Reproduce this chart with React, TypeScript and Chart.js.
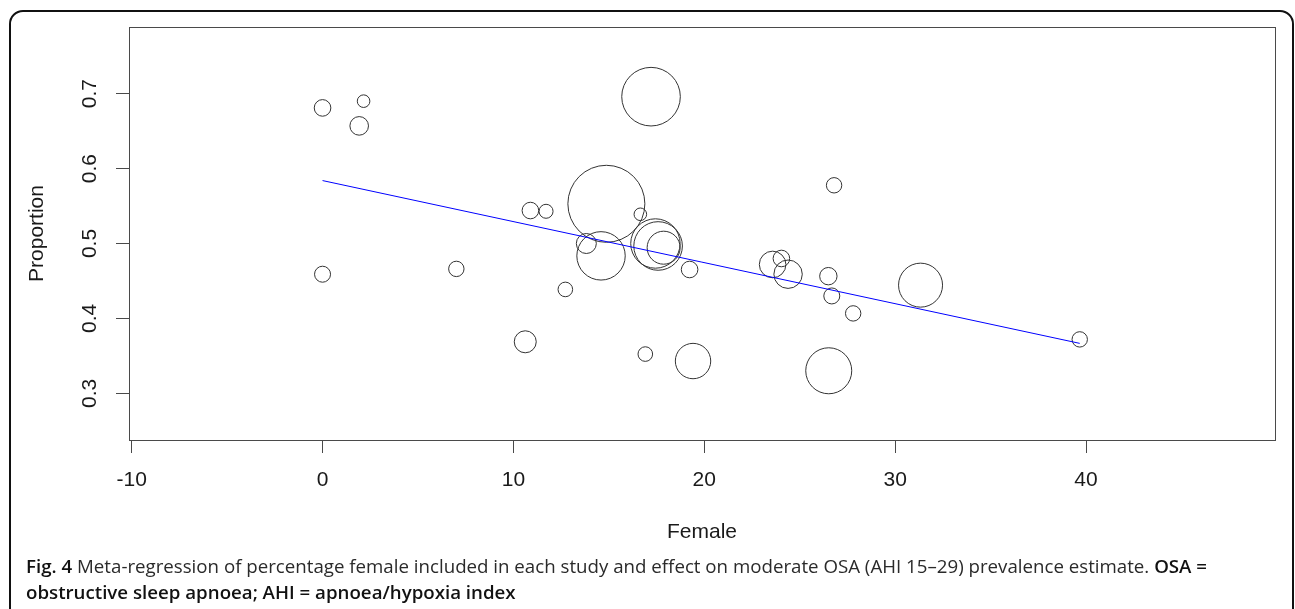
import React, { useEffect, useRef } from "react";
import { Chart, registerables } from "chart.js";

Chart.register(...registerables);

// ---- Data ----
const femalePct: number[] = [
  0, 2.15, 1.92, 0, 17.21, 14.87, 10.89, 11.71, 16.65, 13.82,
  14.59, 17.44, 17.58, 17.87, 19.23, 7.01, 12.72, 23.58, 24.04, 24.39,
  26.5, 26.68, 26.8, 31.33, 10.62, 16.91, 19.41, 26.52, 27.8, 39.67,
];
const proportion: number[] = [
  0.681, 0.690, 0.657, 0.459, 0.696, 0.553, 0.544, 0.543, 0.539, 0.500,
  0.4835, 0.500, 0.4967, 0.4944, 0.4653, 0.4661, 0.4387, 0.472, 0.480, 0.459,
  0.4564, 0.430, 0.5777, 0.4444, 0.3688, 0.3524, 0.3431, 0.3301, 0.4067, 0.372,
];
// relative study weight (bubble size)
const studyWeight: number[] = [
  8.3, 6.3, 9.3, 8, 29.3, 38.5, 8.3, 7, 6.3, 10,
  24.2, 24.7, 24.3, 16.5, 8.3, 7.7, 7.3, 13.3, 8.3, 14.2,
  8.7, 8, 7.7, 22, 11, 7.3, 17.7, 23, 7.7, 7.7,
];
const regressionX: number[] = [0, 39.67];
const regressionY: number[] = [0.584, 0.3667];

const xTicks: number[] = [-10, 0, 10, 20, 30, 40];
const yTicks: number[] = [0.3, 0.4, 0.5, 0.6, 0.7];
const X_MIN = -10.14;
const X_MAX = 49.9;
const Y_MIN = 0.2377;
const Y_MAX = 0.789;

const AXIS_FONT = "'Liberation Sans', Arial, sans-serif";

function zeroPad(s: any) {
  s.paddingTop = 0;
  s.paddingBottom = 0;
  s.paddingLeft = 0;
  s.paddingRight = 0;
}

export default function App() {
  const canvasRef = useRef<HTMLCanvasElement | null>(null);

  useEffect(() => {
    const canvas = canvasRef.current;
    if (!canvas) return;

    const boxPlugin = {
      id: "rbox",
      afterDraw(chart: any) {
        const { ctx, chartArea } = chart;
        ctx.save();
        ctx.strokeStyle = "#4a4a4a";
        ctx.lineWidth = 1;
        ctx.strokeRect(
          Math.round(chartArea.left) + 0.5,
          Math.round(chartArea.top) + 0.5,
          Math.round(chartArea.right - chartArea.left),
          Math.round(chartArea.bottom - chartArea.top)
        );
        ctx.restore();
      },
    };

    const bubbles = femalePct.map((x, i) => ({
      x,
      y: proportion[i],
      r: studyWeight[i],
    }));

    const chart = new Chart(canvas, {
      type: "bubble",
      data: {
        datasets: [
          {
            type: "bubble",
            data: bubbles,
            backgroundColor: "rgba(0,0,0,0)",
            borderColor: "#333333",
            borderWidth: 1,
            hoverBorderWidth: 1,
            order: 2,
          } as any,
          {
            type: "line",
            data: regressionX.map((x, i) => ({ x, y: regressionY[i] })),
            borderColor: "#0000ff",
            borderWidth: 1,
            pointRadius: 0,
            fill: false,
            order: 1,
          } as any,
        ],
      },
      options: {
        animation: false,
        responsive: false,
        maintainAspectRatio: false,
        layout: {
          autoPadding: false,
          padding: { left: 0, top: 27, right: 20, bottom: 0 },
        },
        plugins: {
          legend: { display: false },
          tooltip: { enabled: false },
        },
        events: [],
        scales: {
          x: {
            type: "linear",
            min: X_MIN,
            max: X_MAX,
            afterBuildTicks: (s: any) => {
              s.ticks = xTicks.map((v) => ({ value: v }));
            },
            afterFit: (s: any) => {
              s.height = 169;
              zeroPad(s);
            },
            grid: {
              drawOnChartArea: false,
              drawTicks: true,
              tickLength: 13,
              color: "#4a4a4a",
              lineWidth: 1,
            },
            border: { display: false },
            ticks: {
              autoSkip: false,
              maxRotation: 0,
              minRotation: 0,
              padding: 15,
              color: "#1a1a1a",
              font: { family: AXIS_FONT, size: 21 },
              callback: (v: any) => String(Math.round(Number(v))),
            },
            title: {
              display: true,
              text: "Female",
              color: "#1a1a1a",
              font: { family: AXIS_FONT, size: 21 },
              padding: { top: 0, bottom: 64 },
            },
          },
          y: {
            type: "linear",
            min: Y_MIN,
            max: Y_MAX,
            afterBuildTicks: (s: any) => {
              s.ticks = yTicks.map((v) => ({ value: v }));
            },
            afterFit: (s: any) => {
              s.width = 129;
              zeroPad(s);
            },
            grid: {
              drawOnChartArea: false,
              drawTicks: true,
              tickLength: 13,
              color: "#4a4a4a",
              lineWidth: 1,
            },
            border: { display: false },
            ticks: {
              autoSkip: false,
              minRotation: 90,
              maxRotation: 90,
              crossAlign: "center",
              padding: 11,
              color: "#1a1a1a",
              font: { family: AXIS_FONT, size: 21 },
              callback: (v: any) => Number(v).toFixed(1),
            },
            title: {
              display: true,
              text: "Proportion",
              color: "#1a1a1a",
              font: { family: AXIS_FONT, size: 21 },
              padding: { top: 25, bottom: 0 },
            },
          },
        },
      } as any,
      plugins: [boxPlugin],
    });

    return () => {
      chart.destroy();
    };
  }, []);

  return (
    <div
      style={{
        position: "absolute",
        left: 0,
        top: 0,
        width: 1295,
        height: 609,
        overflow: "hidden",
        background: "#ffffff",
      }}
    >
      <canvas
        ref={canvasRef}
        width={1295}
        height={609}
        style={{ position: "absolute", left: 0, top: 0, width: 1295, height: 609 }}
      />
      <div
        style={{
          position: "absolute",
          left: 9,
          top: 10,
          width: 1285,
          height: 640,
          boxSizing: "border-box",
          border: "2px solid #111111",
          borderRadius: 14,
          pointerEvents: "none",
        }}
      />
      <div
        style={{
          position: "absolute",
          left: 26,
          top: 553,
          fontFamily: "'Open Sans', 'Noto Sans', sans-serif",
          fontSize: 18.7,
          lineHeight: "26px",
          color: "#2a2a2a",
          whiteSpace: "nowrap",
        }}
      >
        <b style={{ color: "#111", fontWeight: 600 }}>Fig. 4</b> Meta-regression of percentage female included in each study and effect on moderate OSA (AHI 15–29) prevalence estimate. <b style={{ color: "#111", fontWeight: 600 }}>OSA =</b>
        <br />
        <b style={{ color: "#111", fontWeight: 600 }}>obstructive sleep apnoea; AHI = apnoea/hypoxia index</b>
      </div>
    </div>
  );
}
